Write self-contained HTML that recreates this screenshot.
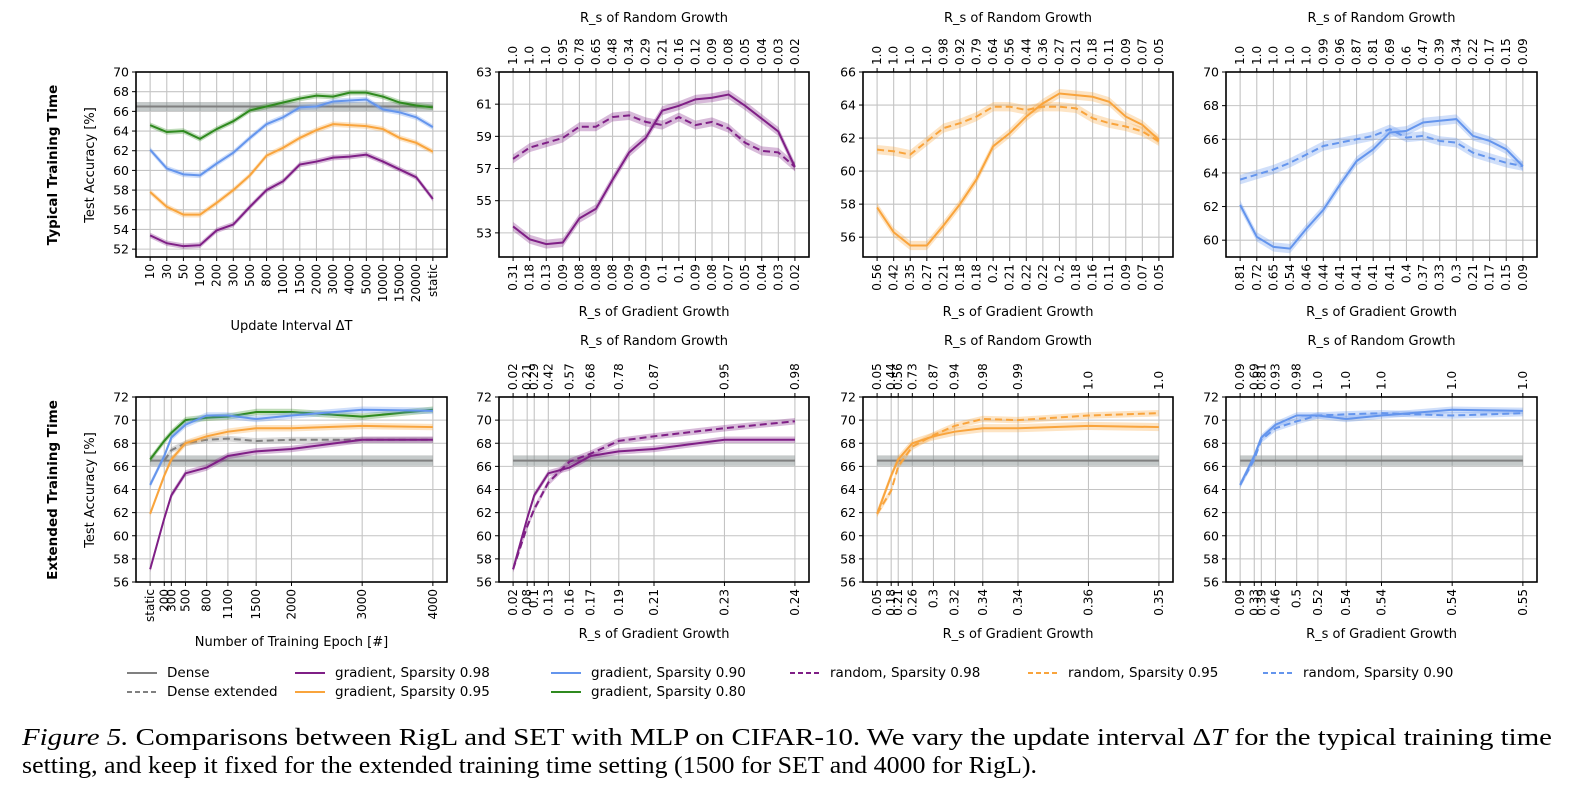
<!DOCTYPE html>
<html><head><meta charset="utf-8"><style>
html,body{margin:0;padding:0;background:#fff;}
svg{display:block;font-family:"DejaVu Sans","Liberation Sans",sans-serif;}
</style></head><body>
<svg id="fig" width="1576" height="792" viewBox="0 0 1576 792" xmlns="http://www.w3.org/2000/svg"></svg>
<script>
// ---------- data ----------
const intervalLabels = ['10','30','50','100','200','300','500','800','1000','1500','2000','3000','4000','5000','10000','15000','20000','static'];
const t_g80 = [64.6,63.9,64.0,63.2,64.2,65.0,66.1,66.5,66.9,67.3,67.6,67.5,67.9,67.9,67.5,66.9,66.6,66.4];
const t_g90 = [62.1,60.2,59.6,59.5,60.7,61.8,63.3,64.7,65.4,66.4,66.5,67.0,67.1,67.2,66.2,65.9,65.4,64.4];
const t_g95 = [57.8,56.3,55.5,55.5,56.7,58.0,59.5,61.5,62.3,63.3,64.1,64.7,64.6,64.5,64.2,63.3,62.8,61.9];
const t_g98 = [53.4,52.6,52.3,52.4,53.9,54.5,56.3,58.0,58.9,60.6,60.9,61.3,61.4,61.6,60.9,60.1,59.3,57.1];
const t_r98 = [57.6,58.3,58.6,58.9,59.6,59.6,60.2,60.3,59.9,59.7,60.2,59.7,59.9,59.5,58.6,58.1,58.0,57.1];
const t_r95 = [61.3,61.2,61.0,61.8,62.6,62.9,63.3,63.9,63.9,63.7,63.9,63.9,63.8,63.2,62.9,62.7,62.4,61.8];
const t_r90 = [63.6,63.9,64.2,64.6,65.1,65.6,65.8,66.0,66.2,66.6,66.1,66.2,65.9,65.8,65.2,64.9,64.6,64.4];
const t98_grad = ['0.31','0.18','0.13','0.09','0.08','0.08','0.08','0.09','0.09','0.1','0.1','0.09','0.08','0.07','0.05','0.04','0.03','0.02'];
const t98_rand = ['1.0','1.0','1.0','0.95','0.78','0.65','0.48','0.34','0.29','0.21','0.16','0.12','0.09','0.08','0.05','0.04','0.03','0.02'];
const t95_grad = ['0.56','0.42','0.35','0.27','0.21','0.18','0.18','0.2','0.21','0.22','0.22','0.2','0.18','0.16','0.11','0.09','0.07','0.05'];
const t95_rand = ['1.0','1.0','1.0','1.0','0.98','0.92','0.79','0.64','0.56','0.44','0.36','0.27','0.21','0.18','0.11','0.09','0.07','0.05'];
const t90_grad = ['0.81','0.72','0.65','0.54','0.46','0.44','0.41','0.41','0.41','0.41','0.4','0.37','0.33','0.3','0.21','0.17','0.15','0.09'];
const t90_rand = ['1.0','1.0','1.0','1.0','1.0','0.99','0.96','0.87','0.81','0.69','0.6','0.47','0.39','0.34','0.22','0.17','0.15','0.09'];

const epochs = [0,200,300,500,800,1100,1500,2000,3000,4000];
const epochLabels = ['static','200','300','500','800','1100','1500','2000','3000','4000'];
const e_g80 = [66.6,68.2,68.9,70.0,70.2,70.3,70.7,70.7,70.3,70.9];
const e_g90 = [64.4,66.9,68.5,69.6,70.4,70.4,70.1,70.4,70.9,70.8];
const e_g95 = [61.9,65.2,66.6,68.0,68.6,69.0,69.3,69.3,69.5,69.4];
const e_g98 = [57.1,61.5,63.5,65.4,65.9,66.9,67.3,67.5,68.3,68.3];
const e_r98 = [57.1,60.8,62.3,64.6,66.4,67.1,68.2,68.6,69.3,69.9];
const e_r95 = [61.9,63.9,66.0,67.7,68.7,69.5,70.1,70.0,70.4,70.6];
const e_r90 = [64.4,66.6,68.3,69.3,69.9,70.4,70.5,70.6,70.4,70.6];
const denseExtEpochs = [200,300,500,800,1100,1500,2000,3000,4000];
const denseExt = [66.5,67.4,68.0,68.3,68.4,68.2,68.3,68.3,68.3];
const denseAcc = 66.5;
const e98_grad = ['0.02','0.08','0.1','0.13','0.16','0.17','0.19','0.21','0.23','0.24'];
const e98_rand = ['0.02','0.21','0.29','0.42','0.57','0.68','0.78','0.87','0.95','0.98'];
const e95_grad = ['0.05','0.18','0.21','0.26','0.3','0.32','0.34','0.34','0.36','0.35'];
const e95_rand = ['0.05','0.44','0.56','0.73','0.87','0.94','0.98','0.99','1.0','1.0'];
const e90_grad = ['0.09','0.33','0.39','0.46','0.5','0.52','0.54','0.54','0.54','0.55'];
const e90_rand = ['0.09','0.69','0.81','0.93','0.98','1.0','1.0','1.0','1.0','1.0'];

const C = {p:'#7f1f86', o:'#f9a43c', b:'#6495ed', g:'#2f8a1f', d:'#808080'};
// ---------- helpers ----------
const NS = 'http://www.w3.org/2000/svg';
const svg = document.getElementById('fig');
function el(tag, attrs, parent){
  const e = document.createElementNS(NS, tag);
  for (const k in attrs) e.setAttribute(k, attrs[k]);
  (parent || svg).appendChild(e);
  return e;
}
let clipId = 0;
function panel(name, box, xlim, ylim, yticks, xvals, botLabels, topLabels, botTitle, topTitle){
  const g = el('g', {});
  
  
  const sx = v => box.l + (v - xlim[0]) / (xlim[1] - xlim[0]) * (box.r - box.l);
  const sy = v => box.b - (v - ylim[0]) / (ylim[1] - ylim[0]) * (box.b - box.t);
  const id = 'clip' + (clipId++);
  const cp = el('clipPath', {id: id}, g);
  el('rect', {x: box.l, y: box.t, width: box.r - box.l, height: box.b - box.t}, cp);
  yticks.forEach(v => {
    const gl = el('line', {x1: box.l, x2: box.r, y1: sy(v), y2: sy(v), stroke: '#c4c4c4', 'stroke-width': 1.1}, g);
    
    
    el('line', {x1: box.l - 4, x2: box.l, y1: sy(v), y2: sy(v), stroke: '#000', 'stroke-width': 1}, g);
    const t = el('text', {x: box.l - 7, y: sy(v), 'text-anchor': 'end', 'dominant-baseline': 'central', 'font-size': 12.5, fill: '#000'}, g);
    t.textContent = String(v);
    
    
  });
  xvals.forEach((v, i) => {
    const x = sx(v);
    const gl = el('line', {x1: x, x2: x, y1: box.t, y2: box.b, stroke: '#c4c4c4', 'stroke-width': 1.1}, g);
    
    
    el('line', {x1: x, x2: x, y1: box.b, y2: box.b + 4, stroke: '#000', 'stroke-width': 1}, g);
    const t = el('text', {transform: `translate(${x},${box.b + 7}) rotate(-90)`, 'text-anchor': 'end', 'dominant-baseline': 'central', 'font-size': 12, fill: '#000'}, g);
    t.textContent = botLabels[i];
    
    
    if (topLabels) {
      el('line', {x1: x, x2: x, y1: box.t - 4, y2: box.t, stroke: '#000', 'stroke-width': 1}, g);
      const tt = el('text', {transform: `translate(${x},${box.t - 7}) rotate(-90)`, 'text-anchor': 'start', 'dominant-baseline': 'central', 'font-size': 12, fill: '#000'}, g);
      tt.textContent = topLabels[i];
      
      
    }
  });
  const plot = el('g', {'clip-path': `url(#${id})`}, g);
  const api = {
    band(xs, ys, w, color){
      let pts = xs.map((x, i) => `${sx(x)},${sy(ys[i] + w)}`);
      pts = pts.concat(xs.map((x, i) => `${sx(x)},${sy(ys[i] - w)}`).reverse());
      const p = el('polygon', {points: pts.join(' '), fill: color, 'fill-opacity': 0.3, stroke: 'none'}, plot);
      
      
    },
    line(xs, ys, color, dashed, nm){
      const p = el('polyline', {points: xs.map((x, i) => `${sx(x)},${sy(ys[i])}`).join(' '), fill: 'none', stroke: color, 'stroke-width': 2, 'stroke-dasharray': dashed ? '7,4' : 'none'}, plot);
      
      
    },
    dense(x0, x1){
      const r = el('rect', {x: sx(x0), width: sx(x1) - sx(x0), y: sy(denseAcc + 0.45), height: sy(denseAcc - 0.45) - sy(denseAcc + 0.45), fill: '#8c9696', 'fill-opacity': 0.5}, plot);
      
      
      const l = el('line', {x1: sx(x0), x2: sx(x1), y1: sy(denseAcc), y2: sy(denseAcc), stroke: C.d, 'stroke-width': 2}, plot);
      
      
    }
  };
  const frame = el('rect', {x: box.l, y: box.t, width: box.r - box.l, height: box.b - box.t, fill: 'none', stroke: '#000', 'stroke-width': 1.6}, g);
  
  
  const cx = (box.l + box.r) / 2;
  if (botTitle) {
    const t = el('text', {x: cx, y: botTitle.y, 'text-anchor': 'middle', 'font-size': 13, fill: '#000'}, g);
    t.textContent = botTitle.text;
    
    
  }
  if (topTitle) {
    const t = el('text', {x: cx, y: topTitle.y, 'text-anchor': 'middle', 'font-size': 13, fill: '#000'}, g);
    t.textContent = topTitle.text;
    
    
  }
  return api;
}
const idx = intervalLabels.map((_, i) => i);
const XL = [-0.85, 17.85], EL = [-200, 4200];
const TB = {t: 72, b: 257}, BB = {t: 397, b: 582};
const cols = [[136, 447], [499, 809], [863, 1173], [1226, 1537]];
const W = 0.28;
// ---- top row ----
let a = panel('panel-typical-interval', {l: cols[0][0], r: cols[0][1], ...TB}, XL, [51.2, 70], [52,54,56,58,60,62,64,66,68,70], idx, intervalLabels, null, {text: 'Update Interval \u0394T', y: 330}, null);
a.dense(-1, 17);
[[t_g80, C.g, 'line-gradient-080'], [t_g90, C.b, 'line-gradient-090'], [t_g95, C.o, 'line-gradient-095'], [t_g98, C.p, 'line-gradient-098']].forEach(s => { a.band(idx, s[0], W, s[1]); a.line(idx, s[0], s[1], false, s[2]); });

a = panel('panel-typical-098', {l: cols[1][0], r: cols[1][1], ...TB}, XL, [51.5, 63], [53,55,57,59,61,63], idx, t98_grad, t98_rand, {text: 'R_s of Gradient Growth', y: 316}, {text: 'R_s of Random Growth', y: 22});
a.band(idx, t_g98, W, C.p); a.band(idx, t_r98, W, C.p);
a.line(idx, t_g98, C.p, false, 'line-gradient-098'); a.line(idx, t_r98, C.p, true, 'line-random-098');

a = panel('panel-typical-095', {l: cols[2][0], r: cols[2][1], ...TB}, XL, [54.8, 66], [56,58,60,62,64,66], idx, t95_grad, t95_rand, {text: 'R_s of Gradient Growth', y: 316}, {text: 'R_s of Random Growth', y: 22});
a.band(idx, t_g95, W, C.o); a.band(idx, t_r95, W, C.o);
a.line(idx, t_g95, C.o, false, 'line-gradient-095'); a.line(idx, t_r95, C.o, true, 'line-random-095');

a = panel('panel-typical-090', {l: cols[3][0], r: cols[3][1], ...TB}, XL, [59.0, 70], [60,62,64,66,68,70], idx, t90_grad, t90_rand, {text: 'R_s of Gradient Growth', y: 316}, {text: 'R_s of Random Growth', y: 22});
a.band(idx, t_g90, W, C.b); a.band(idx, t_r90, W, C.b);
a.line(idx, t_g90, C.b, false, 'line-gradient-090'); a.line(idx, t_r90, C.b, true, 'line-random-090');
// ---- bottom row ----
const ey = [56,58,60,62,64,66,68,70,72];
a = panel('panel-extended-epochs', {l: cols[0][0], r: cols[0][1], ...BB}, EL, [56, 72], ey, epochs, epochLabels, null, {text: 'Number of Training Epoch [#]', y: 646}, null);
a.dense(0, 4000);
a.band(denseExtEpochs, denseExt, 0.25, C.d);
a.line(denseExtEpochs, denseExt, C.d, true, 'line-dense-extended');
[[e_g80, C.g, 'line-gradient-080'], [e_g90, C.b, 'line-gradient-090'], [e_g95, C.o, 'line-gradient-095'], [e_g98, C.p, 'line-gradient-098']].forEach(s => { a.band(epochs, s[0], W, s[1]); a.line(epochs, s[0], s[1], false, s[2]); });

a = panel('panel-extended-098', {l: cols[1][0], r: cols[1][1], ...BB}, EL, [56, 72], ey, epochs, e98_grad, e98_rand, {text: 'R_s of Gradient Growth', y: 638}, {text: 'R_s of Random Growth', y: 345});
a.dense(0, 4000);
a.band(epochs, e_g98, W, C.p); a.band(epochs, e_r98, W, C.p);
a.line(epochs, e_g98, C.p, false, 'line-gradient-098'); a.line(epochs, e_r98, C.p, true, 'line-random-098');

a = panel('panel-extended-095', {l: cols[2][0], r: cols[2][1], ...BB}, EL, [56, 72], ey, epochs, e95_grad, e95_rand, {text: 'R_s of Gradient Growth', y: 638}, {text: 'R_s of Random Growth', y: 345});
a.dense(0, 4000);
a.band(epochs, e_g95, 0.35, C.o); a.band(epochs, e_r95, W, C.o);
a.line(epochs, e_g95, C.o, false, 'line-gradient-095'); a.line(epochs, e_r95, C.o, true, 'line-random-095');

a = panel('panel-extended-090', {l: cols[3][0], r: cols[3][1], ...BB}, EL, [56, 72], ey, epochs, e90_grad, e90_rand, {text: 'R_s of Gradient Growth', y: 638}, {text: 'R_s of Random Growth', y: 345});
a.dense(0, 4000);
a.band(epochs, e_g90, W, C.b); a.band(epochs, e_r90, W, C.b);
a.line(epochs, e_g90, C.b, false, 'line-gradient-090'); a.line(epochs, e_r90, C.b, true, 'line-random-090');

// ---- side labels ----
[['Typical Training Time', 165], ['Extended Training Time', 490]].forEach(r => {
  const t = el('text', {transform: `translate(57,${r[1]}) rotate(-90)`, 'text-anchor': 'middle', 'font-size': 13.5, 'font-weight': 'bold', fill: '#000'});
  t.textContent = r[0];
  
  
  const y = el('text', {transform: `translate(94,${r[1]}) rotate(-90)`, 'text-anchor': 'middle', 'font-size': 13, fill: '#000'});
  y.textContent = 'Test Accuracy [%]';
  
  
});

// ---- legend ----
const legendItems = [
  ['Dense', C.d, false, 127, 673], ['Dense extended', C.d, true, 127, 692],
  ['gradient, Sparsity 0.98', C.p, false, 295, 673], ['gradient, Sparsity 0.95', C.o, false, 295, 692],
  ['gradient, Sparsity 0.90', C.b, false, 551, 673], ['gradient, Sparsity 0.80', C.g, false, 551, 692],
  ['random, Sparsity 0.98', C.p, true, 790, 673], ['random, Sparsity 0.95', C.o, true, 1028, 673],
  ['random, Sparsity 0.90', C.b, true, 1263, 673]
];
legendItems.forEach(it => {
  const g = el('g', {});
  
  
  el('line', {x1: it[3], x2: it[3] + 30, y1: it[4], y2: it[4], stroke: it[1], 'stroke-width': 2, 'stroke-dasharray': it[2] ? '5,3' : 'none'}, g);
  const t = el('text', {x: it[3] + 40, y: it[4], 'dominant-baseline': 'central', 'font-size': 13.5, fill: '#000'}, g);
  t.textContent = it[0];
});

// ---- caption ----
const cap1 = el('text', {x: 22, y: 745, 'font-family': 'Liberation Serif, serif', 'font-size': 24.5, fill: '#000', textLength: 1530, lengthAdjust: 'spacingAndGlyphs'});


cap1.innerHTML = '<tspan font-style="italic">Figure 5.</tspan> Comparisons between RigL and SET with MLP on CIFAR-10. We vary the update interval \u0394<tspan font-style="italic">T</tspan> for the typical training time';
const cap2 = el('text', {x: 22, y: 773, 'font-family': 'Liberation Serif, serif', 'font-size': 24.5, fill: '#000', textLength: 1015, lengthAdjust: 'spacingAndGlyphs'});


cap2.textContent = 'setting, and keep it fixed for the extended training time setting (1500 for SET and 4000 for RigL).';
</script>
</body></html>
